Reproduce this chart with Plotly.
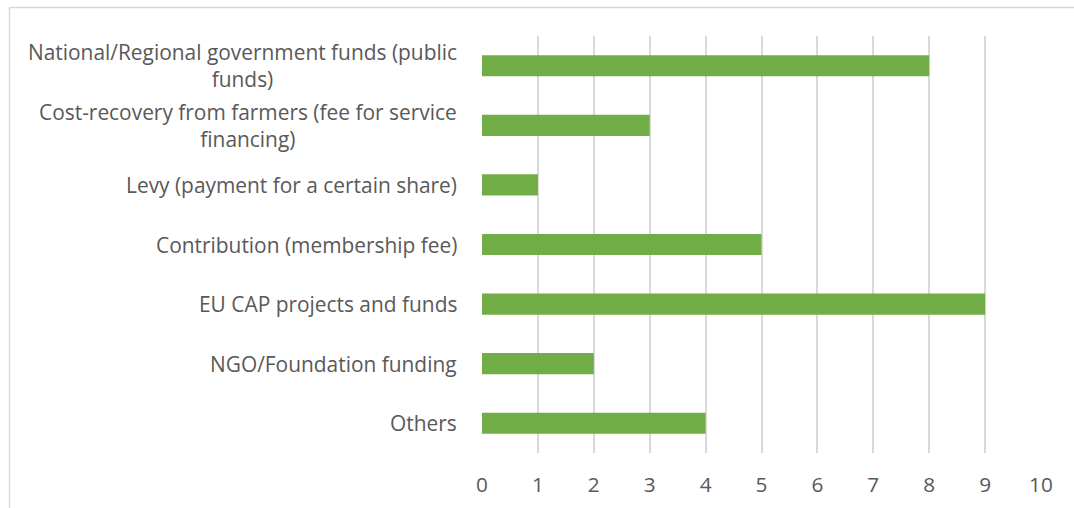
import plotly.graph_objects as go

categories = [
    "National/Regional government funds (public<br>funds)",
    "Cost-recovery from farmers (fee for service<br>financing)",
    "Levy (payment for a certain share)",
    "Contribution (membership fee)",
    "EU CAP projects and funds",
    "NGO/Foundation funding",
    "Others",
]
values = [8, 3, 1, 5, 9, 2, 4]
tick_vals = list(range(0, 11))

W, H = 1074, 508
L, R, T, B = 482, 33, 36, 55
pw, ph = W - L - R, H - T - B
FONT = "Open Sans, Lato, sans-serif"

fig = go.Figure(go.Bar(
    x=values, y=list(range(len(categories))), orientation="h",
    marker=dict(color="#70AD47", line=dict(width=0)), width=0.355,
))

annotations = []
for i, c in enumerate(categories):
    annotations.append(dict(
        x=-23 / pw, xref="paper", y=i, yref="y", text=c, showarrow=False,
        xanchor="right", yanchor="middle", align="center",
        font=dict(family=FONT, size=20.9, color="#595959"),
    ))

def px_x(px):
    return (px - L) / pw

def px_y(py):
    return (H - B - py) / ph

shapes = [
    dict(type="line", xref="paper", yref="paper", x0=px_x(9), x1=px_x(1080), y0=px_y(7.5), y1=px_y(7.5),
         line=dict(color="#d9d9d9", width=1.5)),
    dict(type="line", xref="paper", yref="paper", x0=px_x(9.5), x1=px_x(9.5), y0=px_y(7), y1=px_y(515),
         line=dict(color="#d9d9d9", width=1.5)),
]

fig.update_layout(
    width=W, height=H,
    margin=dict(l=L, r=R, t=T, b=B, autoexpand=False),
    paper_bgcolor="white", plot_bgcolor="white",
    showlegend=False,
    annotations=annotations, shapes=shapes,
    xaxis=dict(range=[0, 10], tickvals=tick_vals, showgrid=True, gridcolor="#d9d9d9", gridwidth=1.5,
               zeroline=False, showline=False, ticks="", ticklabelstandoff=17, automargin=False,
               tickfont=dict(family=FONT, size=20.8, color="#595959")),
    yaxis=dict(range=[len(categories) - 0.5, -0.5], showticklabels=False, showgrid=False,
               zeroline=False, showline=False, ticks="", automargin=False),
)

fig.write_html("out.html", config={"displayModeBar": False},
               post_script="document.body.style.margin='0';document.body.style.overflow='hidden';")
